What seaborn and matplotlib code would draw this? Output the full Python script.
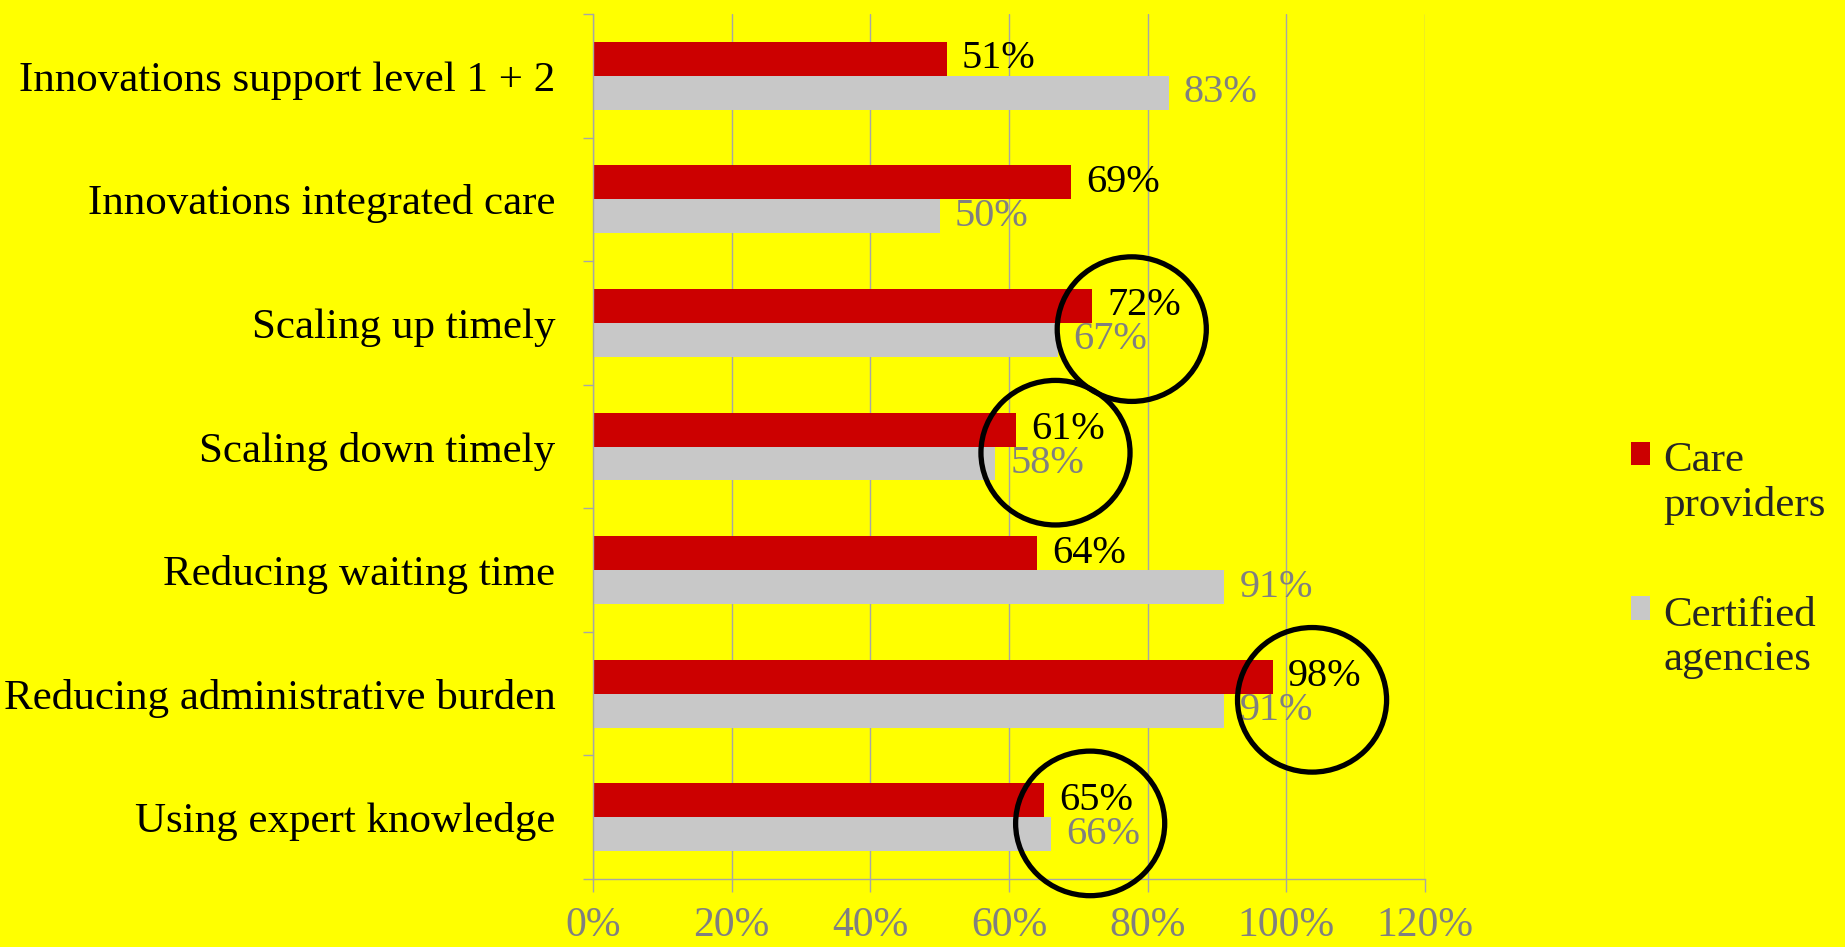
import numpy as np
import pandas as pd
import matplotlib
matplotlib.use("Agg")
import matplotlib.pyplot as plt
from matplotlib.patches import Ellipse
import seaborn as sns

# ====== data ======
categories = [
    "Innovations support level 1 + 2",
    "Innovations integrated care",
    "Scaling up timely",
    "Scaling down timely",
    "Reducing waiting time",
    "Reducing administrative burden",
    "Using expert knowledge",
]
care_providers = [51, 69, 72, 61, 64, 98, 65]
certified_agencies = [83, 50, 67, 58, 91, 91, 66]
series_names = ["Care providers", "Certified agencies"]
x_ticks = [0, 20, 40, 60, 80, 100, 120]
# rows that are circled in the original slide
highlighted = ["Scaling up timely", "Scaling down timely",
               "Reducing administrative burden", "Using expert knowledge"]
# =========================================

RED = "#CC0000"
GREY = "#C8C8C8"
YELLOW = "#FFFF00"
LABEL_GREY = "#808080"
GRID = "#A6A6A6"

df = pd.DataFrame({
    "category": categories * 2,
    "value": care_providers + certified_agencies,
    "series": [series_names[0]] * len(categories) + [series_names[1]] * len(categories),
})

sns.set_theme(style="white")
plt.rcParams["font.family"] = ["Liberation Serif", "DejaVu Serif"]

fig = plt.figure(figsize=(18.45, 9.47), dpi=100, facecolor=YELLOW)
ax = fig.add_axes([0.3214, 0.0718, 0.4510, 0.9134])
ax.set_facecolor(YELLOW)

sns.barplot(data=df, x="value", y="category", hue="series", orient="h",
            palette=[RED, GREY], width=0.55, saturation=1, ax=ax,
            order=categories, hue_order=series_names, legend=True,
            linewidth=0, edgecolor="none")

# value labels
for cont, col in zip(ax.containers, ["black", LABEL_GREY]):
    ax.bar_label(cont, labels=[f"{v:.0f}%" for v in cont.datavalues],
                 padding=11, color=col, fontsize=29)

ax.set_xlim(0, 120)
ax.set_ylim(len(categories) - 0.5, -0.5)
ax.set_xticks(x_ticks)
ax.set_xticklabels([f"{t}%" for t in x_ticks], color=LABEL_GREY, fontsize=30)
ax.set_xlabel("")
ax.set_ylabel("")
ax.tick_params(axis="y", length=0, pad=27, labelsize=31, labelcolor="black")
ax.set_yticks(np.arange(-0.5, len(categories)), minor=True)
ax.tick_params(axis="y", which="minor", length=7, width=1, color=GRID, left=True)
ax.tick_params(axis="x", length=9, width=1, color=GRID, bottom=True, pad=11)

ax.grid(axis="x", color=GRID, linewidth=1)
ax.grid(axis="y", visible=False)
ax.set_axisbelow(True)
for side in ["top", "right"]:
    ax.spines[side].set_visible(False)
for side in ["left", "bottom"]:
    ax.spines[side].set_color(GRID)
    ax.spines[side].set_linewidth(1)

# circles around highlighted rows
for name in highlighted:
    i = categories.index(name)
    cx = max(care_providers[i], certified_agencies[i]) + 5.7
    ax.add_patch(Ellipse((cx, i + 0.05), width=21.5, height=1.17, fill=False,
                         edgecolor="black", linewidth=3.8, clip_on=False, zorder=5))

# legend
handles, _ = ax.get_legend_handles_labels()
leg = ax.legend(handles, [s.replace(" ", "\n") for s in series_names],
                loc="center left", bbox_to_anchor=(0.863, 0.408),
                bbox_transform=fig.transFigure, frameon=False, fontsize=31,
                handlelength=0.45, handleheight=0.45, handletextpad=0.3,
                labelspacing=1.65)
for col in leg._legend_handle_box.get_children():
    for item in col.get_children():
        item.align = "top"

fig.savefig("out.png", dpi=100, facecolor=YELLOW)
